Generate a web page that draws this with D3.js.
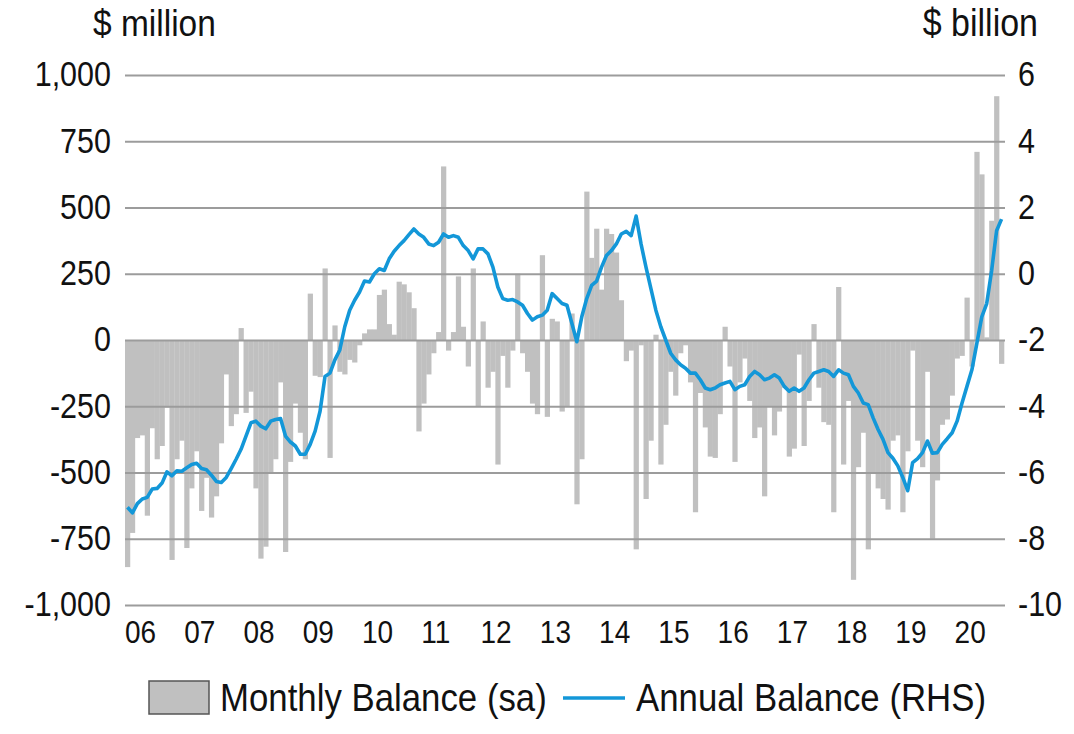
<!DOCTYPE html>
<meta charset="utf-8">
<script src="https://d3js.org/d3.v7.min.js"></script>
<style>
  body { margin: 0; background: #fff; }
  text { font-family: "Liberation Sans", Arial, sans-serif; fill: #111; }
</style>
<body></body>
<script>

// monthly trade balance, seasonally adjusted ($ million), Jan 2006 .. Oct 2020
var monthly = [
  -857, -728, -370, -360, -663, -333, -450, -400, -255, -830, -450, -380,   // 2006
  -785, -560, -420, -645, -520, -670, -590, -390, -130, -325, -280,   45,   // 2007
  -275, -195, -560, -825, -780, -500, -450, -160, -800, -460, -240, -350,   // 2008
  -450,  175, -135, -140,  270, -445,   55, -120, -130,  -75,  -85,  -20,   // 2009
    25,   40,   40,  170,  190,   60,   20,  220,  210,  180,  120, -345,   // 2010
  -240, -130,  -50,   30,  655,  -40,   30,  240,   50, -100,  270, -250,   // 2011
    70, -180, -120, -470,  -60, -180,  -40,  250,  -50, -120, -240, -280,   // 2012
   320, -290,   80,   70, -270, -250,  100, -620, -450,  560,  310,  420,   // 2013
   190,  420,  400,  330,  150,  -80,  -40, -790,  -20, -600, -380,   20,   // 2014
  -470, -320, -120, -210,  -50,  -20, -160, -650, -200, -330, -440, -445,   // 2015
  -280,   50, -100, -460, -160,  -70, -230, -370, -330, -590, -250, -360,   // 2016
  -270, -180, -440, -410,  -55, -400, -230,   60, -180, -310, -320, -650,   // 2017
   200, -470, -230, -905, -480, -350, -790, -500, -560, -600, -640, -380,   // 2018
  -360, -650, -420,  -40, -380, -480, -120, -750, -530, -320, -300, -210,   // 2019
   -70,  -60,  160, -100,  710,  625,   10,  450,  920,  -90                 // 2020
];

// annual (12 month) balance ($ billion, RHS)
var annual = [
  -7.05, -7.22, -6.94, -6.80, -6.75, -6.50, -6.48, -6.32, -5.98, -6.10, -5.95, -5.96,
  -5.86, -5.76, -5.72, -5.88, -5.92, -6.08, -6.27, -6.30, -6.15, -5.88, -5.60, -5.30,
  -4.90, -4.50, -4.45, -4.60, -4.68, -4.45, -4.40, -4.37, -4.90, -5.08, -5.20, -5.45,
  -5.45, -5.15, -4.75, -4.15, -3.10, -3.00, -2.60, -2.30, -1.60, -1.10, -0.80, -0.55,
  -0.22, -0.25,  0.00,  0.15,  0.10,  0.45,  0.68,  0.85,  1.00,  1.18,  1.35,  1.20,
   1.10,  0.90,  0.85,  0.95,  1.20,  1.10,  1.15,  1.10,  0.85,  0.70,  0.45,  0.75,
   0.75,  0.60,  0.20, -0.40, -0.75, -0.80, -0.78, -0.85, -0.95, -1.20, -1.40, -1.30,
  -1.25, -1.10, -0.60, -0.75, -0.90, -0.95, -1.50, -2.05, -1.30, -0.75, -0.35, -0.22,
   0.20,  0.55,  0.70,  0.90,  1.20,  1.28,  1.15,  1.74,  0.90,  0.20, -0.45, -1.10,
  -1.60, -2.00, -2.40, -2.60, -2.75, -2.85, -3.00, -3.00, -3.20, -3.45, -3.50, -3.45,
  -3.35, -3.30, -3.25, -3.50, -3.40, -3.35, -3.10, -2.95, -3.05, -3.20, -3.15, -3.05,
  -3.15, -3.40, -3.55, -3.45, -3.55, -3.45, -3.20, -3.00, -2.95, -2.90, -2.95, -3.10,
  -2.90, -3.00, -3.05, -3.40, -3.60, -3.90, -3.95, -4.35, -4.70, -5.00, -5.40, -5.57,
  -5.80, -6.15, -6.55, -5.70, -5.58, -5.40, -5.05, -5.42, -5.40, -5.15, -4.98, -4.80,
  -4.45, -3.90, -3.40, -2.90, -2.10, -1.30, -0.90,  0.10,  1.30,  1.65
];

var yearLabels = ["06","07","08","09","10","11","12","13","14","15","16","17","18","19","20"];
var leftTicks = [1000, 750, 500, 250, 0, -250, -500, -750, -1000];
var rightTicks = [6, 4, 2, 0, -2, -4, -6, -8, -10];

var width = 1074,
    height = 734;

// the original lettering is a bit taller than it is wide
var stretch = "scale(1,1.12)";

var svg = d3.select("body").append("svg")
    .attr("width", width)
    .attr("height", height);

function label(x, y, str, size, anchor) {
  svg.append("g")
      .attr("transform", "translate(" + x + "," + y + ")")
    .append("text")
      .attr("transform", stretch)
      .attr("font-size", size)
      .attr("text-anchor", anchor || "start")
      .text(str);
}

// one slot per month, Jan 2006 onward
var months = d3.range(monthly.length);

var x = d3.scaleBand()
    .domain(months)
    .range([125, 1004])
    .padding(0);

var yL = d3.scaleLinear().domain([-1000, 1000]).range([605, 75]);
var yR = d3.scaleLinear().domain([-10, 6]).range([605, 75]);

// bars first, gridlines sit on top of them
svg.append("g").selectAll("rect")
    .data(monthly)
  .enter().append("rect")
    .attr("x", function(d, i) { return x(i); })
    .attr("width", x.bandwidth() + 0.3)
    .attr("y", function(d) { return yL(Math.max(0, d)); })
    .attr("height", function(d) { return Math.abs(yL(d) - yL(0)); })
    .attr("fill", "#c0c0c0");

// plain hyphen for negatives, like the original
var fmtL = function(d) { return d3.format(",")(d).replace("\u2212", "-"); };
var fmtR = function(d) { return String(d); };

var axisL = svg.append("g")
    .attr("transform", "translate(125,0)")
    .call(d3.axisLeft(yL).tickValues(leftTicks).tickSize(-880).tickPadding(14).tickFormat(fmtL));

var axisR = svg.append("g")
    .attr("transform", "translate(1005,0)")
    .call(d3.axisRight(yR).tickValues(rightTicks).tickSize(0).tickPadding(13).tickFormat(fmtR));

axisL.select(".domain").remove();
axisR.select(".domain").remove();
axisL.selectAll(".tick line").attr("stroke", "#9c9c9c").attr("stroke-width", 2);
svg.selectAll(".tick text")
    .attr("font-size", 30.5)
    .attr("font-family", "'Liberation Sans', Arial, sans-serif")
    .attr("fill", "#111")
    .attr("transform", stretch);

// year labels, left aligned at each January
yearLabels.forEach(function(d, i) {
  label(x(i * 12), 643, d, 28);
});

// annual balance line
var line = d3.line()
    .x(function(d, i) { return x(i) + x.bandwidth() / 2; })
    .y(function(d) { return yR(d); });

svg.append("path")
    .datum(annual)
    .attr("d", line)
    .attr("fill", "none")
    .attr("stroke", "#1397d8")
    .attr("stroke-width", 3.6)
    .attr("stroke-linejoin", "round");

// unit labels
label(93, 36, "$ million", 33.5);
label(1038, 36, "$ billion", 34, "end");

// legend
var legend = svg.append("g");
legend.append("rect")
    .attr("x", 149).attr("y", 681)
    .attr("width", 60).attr("height", 33)
    .attr("fill", "#c0c0c0")
    .attr("stroke", "#555")
    .attr("stroke-width", 1.5);
label(220, 711, "Monthly Balance (sa)", 34.8);
legend.append("line")
    .attr("x1", 563).attr("x2", 625)
    .attr("y1", 698).attr("y2", 698)
    .attr("stroke", "#1397d8")
    .attr("stroke-width", 3.6);
label(636, 711, "Annual Balance (RHS)", 34.8);

</script>
